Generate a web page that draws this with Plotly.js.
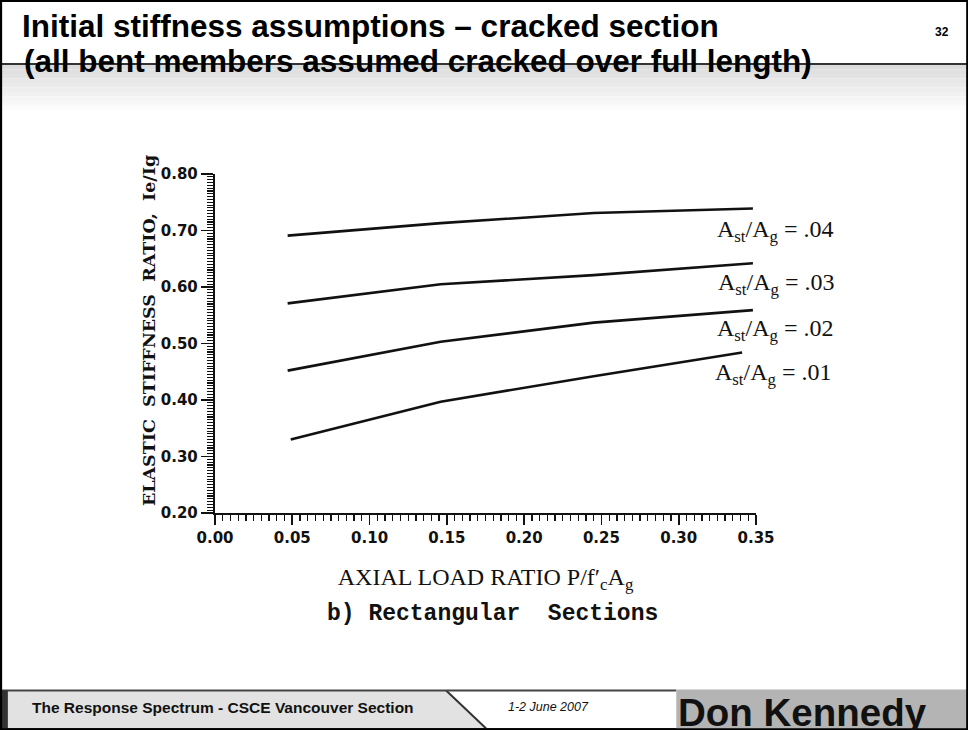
<!DOCTYPE html>
<html>
<head>
<meta charset="utf-8">
<script src="https://cdn.plot.ly/plotly-3.0.1.min.js"></script>
<style>
html,body{margin:0;padding:0;background:#ffffff;}
#chart{width:968px;height:730px;}
</style>
</head>
<body>
<div id="chart"></div>
<script>
// ---- data ----
const loadRatio   = [0.047, 0.146, 0.245, 0.348];
const loadRatio01 = [0.049, 0.146, 0.245, 0.341];
const stiff04 = [0.691, 0.713, 0.731, 0.739];
const stiff03 = [0.571, 0.605, 0.621, 0.642];
const stiff02 = [0.452, 0.503, 0.537, 0.559];
const stiff01 = [0.330, 0.397, 0.442, 0.484];
const steelRatios = ['.04', '.03', '.02', '.01'];
const xTickVals = [0.00, 0.05, 0.10, 0.15, 0.20, 0.25, 0.30, 0.35];
const xTickText = ['0.00', '0.05', '0.10', '0.15', '0.20', '0.25', '0.30', '0.35'];
const yTickVals = [0.20, 0.30, 0.40, 0.50, 0.60, 0.70, 0.80];
const yTickText = ['0.20', '0.30', '0.40', '0.50', '0.60', '0.70', '0.80'];

// ---- page geometry (pixels) ----
const W = 968, H = 730, L = 215, R = 755.7, T = 174, B = 512.7;
const X = p => (p - L) / (R - L);
const Y = p => (B - p) / (B - T);

const lineStyle = {color: '#111111', width: 2.6};
const xsets = [loadRatio, loadRatio, loadRatio, loadRatio01];
const ysets = [stiff04, stiff03, stiff02, stiff01];
const traces = ysets.map((ys, i) => ({
  x: xsets[i], y: ys, type: 'scatter', mode: 'lines',
  line: lineStyle, name: 'Ast/Ag = ' + steelRatios[i],
  showlegend: false, hoverinfo: 'skip'
}));

// label positions (left x, centre y in px)
const labelPos = [[715, 231], [716, 283.5], [715, 329.5], [712.5, 373.5]];
const serif = 'Liberation Serif, Times New Roman, serif';
const sans = 'Liberation Sans, Arial, sans-serif';
const nb = '\u00a0';

const annotations = steelRatios.map((s, i) => ({
  xref: 'paper', yref: 'paper', x: X(labelPos[i][0]), y: Y(labelPos[i][1]),
  xanchor: 'left', yanchor: 'middle', showarrow: false,
  text: 'A<sub>st</sub>/A<sub>g</sub> = ' + s,
  font: {family: serif, size: 24, color: '#111111'}
}));

// y-axis title (rotated)
annotations.push({
  xref: 'paper', yref: 'paper', x: X(149), y: Y(330), xanchor: 'center', yanchor: 'middle',
  textangle: -90, showarrow: false,
  text: 'ELASTIC' + nb + nb + 'STIFFNESS' + nb + nb + 'RATIO,' + nb + nb + 'Ie/Ig',
  font: {family: 'DejaVu Serif, serif', size: 17.5, weight: 'bold', color: '#111111'}
});

annotations.push({
  xref: 'paper', yref: 'paper', x: X(492), y: Y(614), xanchor: 'center', yanchor: 'middle',
  showarrow: false, text: 'b)' + nb + 'Rectangular' + nb + nb + 'Sections',
  font: {family: 'Liberation Mono, Courier New, monospace', size: 23, weight: 'bold', color: '#111111'}
});
// slide second title line
annotations.push({
  xref: 'paper', yref: 'paper', x: X(22), y: Y(61), xanchor: 'left', yanchor: 'middle',
  showarrow: false, text: '(all bent members assumed cracked over full length)',
  font: {family: sans, size: 31.5, weight: 'bold', color: '#000000'}
});
// slide number
annotations.push({
  xref: 'paper', yref: 'paper', x: X(942), y: Y(32), xanchor: 'center', yanchor: 'middle',
  showarrow: false, text: '32',
  font: {family: sans, size: 12, weight: 'bold', color: '#000000'}
});
// footer texts
annotations.push({
  xref: 'paper', yref: 'paper', x: X(30), y: Y(707), xanchor: 'left', yanchor: 'middle',
  showarrow: false, text: 'The Response Spectrum - CSCE Vancouver Section',
  font: {family: sans, size: 15.5, weight: 'bold', color: '#111111'}
});
annotations.push({
  xref: 'paper', yref: 'paper', x: X(548), y: Y(707), xanchor: 'center', yanchor: 'middle',
  showarrow: false, text: '1-2 June 2007',
  font: {family: sans, size: 12.5, style: 'italic', color: '#111111'}
});
annotations.push({
  xref: 'paper', yref: 'paper', x: X(802), y: Y(712), xanchor: 'center', yanchor: 'middle',
  showarrow: false, text: 'Don Kennedy',
  font: {family: sans, size: 38.5, weight: 'bold', color: '#111111'}
});

// shapes
const shapes = [];
const bands = 10;
for (let i = 0; i < bands; i++) {
  const g = Math.round(220 + (255 - 220) * i / bands);
  shapes.push({type: 'rect', xref: 'paper', yref: 'paper', layer: 'below',
    x0: X(0), x1: X(W), y0: Y(65 + i * 4.5), y1: Y(65 + (i + 1) * 4.5),
    fillcolor: 'rgb(' + g + ',' + g + ',' + g + ')', line: {width: 0}});
}
shapes.push({type: 'line', xref: 'paper', yref: 'paper', x0: X(0), x1: X(W), y0: Y(64), y1: Y(64),
  line: {color: '#333333', width: 2}});
// footer
shapes.push({type: 'rect', xref: 'paper', yref: 'paper', x0: X(0), x1: X(W), y0: Y(690), y1: Y(730),
  fillcolor: '#ffffff', line: {width: 0}});
shapes.push({type: 'path', xref: 'paper', yref: 'paper',
  path: 'M ' + X(8) + ' ' + Y(690) + ' L ' + X(446) + ' ' + Y(690) + ' L ' + X(486) + ' ' + Y(728) +
        ' L ' + X(8) + ' ' + Y(728) + ' Z',
  fillcolor: '#e2e2e2', line: {width: 0}});
shapes.push({type: 'line', xref: 'paper', yref: 'paper', x0: X(446), x1: X(486), y0: Y(690), y1: Y(728),
  line: {color: '#333333', width: 2}});
shapes.push({type: 'line', xref: 'paper', yref: 'paper', x0: X(0), x1: X(676), y0: Y(690), y1: Y(690),
  line: {color: '#444444', width: 2}});
shapes.push({type: 'rect', xref: 'paper', yref: 'paper', x0: X(0), x1: X(8), y0: Y(690), y1: Y(730),
  fillcolor: '#333333', line: {width: 0}});
shapes.push({type: 'rect', xref: 'paper', yref: 'paper', x0: X(676), x1: X(W), y0: Y(689), y1: Y(730),
  fillcolor: '#b4b4b4', line: {width: 0}});
shapes.push({type: 'line', xref: 'paper', yref: 'paper', x0: X(0), x1: X(676), y0: Y(728.5), y1: Y(728.5),
  line: {color: '#333333', width: 2}});
// slide border
shapes.push({type: 'rect', xref: 'paper', yref: 'paper', x0: X(1), x1: X(967), y0: Y(1), y1: Y(729),
  line: {color: '#000000', width: 2.5}, fillcolor: 'rgba(0,0,0,0)'});

const tickFont = {family: 'DejaVu Sans, Verdana, sans-serif', size: 15, weight: 'bold', color: '#111111'};

const layout = {
  width: W, height: H, autosize: false,
  margin: {l: L, r: W - R, t: T, b: H - B, pad: 0},
  paper_bgcolor: '#ffffff', plot_bgcolor: 'rgba(0,0,0,0)',
  title: {
    text: 'Initial stiffness assumptions \u2013 cracked section',
    x: 22 / W, xanchor: 'left', xref: 'container',
    y: 1 - 26 / H, yanchor: 'middle', yref: 'container',
    font: {family: sans, size: 31.5, weight: 'bold', color: '#000000'}
  },
  xaxis: {
    range: [0, 0.35], tickmode: 'array', tickvals: xTickVals, ticktext: xTickText,
    ticks: 'outside', ticklen: 10, tickwidth: 1.6, tickcolor: '#111111',
    showline: true, linecolor: '#111111', linewidth: 2.2, showgrid: false, zeroline: false,
    minor: {dtick: 0.005, tick0: 0, ticks: 'outside', ticklen: 6, tickwidth: 1.3, tickcolor: '#111111', showgrid: false},
    tickfont: tickFont, fixedrange: true,
    title: {text: 'AXIAL LOAD RATIO P/f\u2032<sub>c</sub>A<sub>g</sub>', standoff: 22,
      font: {family: serif, size: 24, color: '#111111'}}
  },
  yaxis: {
    range: [0.2, 0.8], tickmode: 'array', tickvals: yTickVals, ticktext: yTickText,
    ticks: 'outside', ticklen: 12, tickwidth: 1.6, tickcolor: '#111111',
    showline: true, linecolor: '#111111', linewidth: 2.2, showgrid: false, zeroline: false,
    minor: {dtick: 0.005, tick0: 0.2, ticks: 'outside', ticklen: 6, tickwidth: 1.1, tickcolor: '#111111', showgrid: false},
    tickfont: tickFont, fixedrange: true
  },
  shapes: shapes,
  annotations: annotations
};

Plotly.newPlot('chart', traces, layout, {displayModeBar: false, staticPlot: true});
</script>
</body>
</html>
